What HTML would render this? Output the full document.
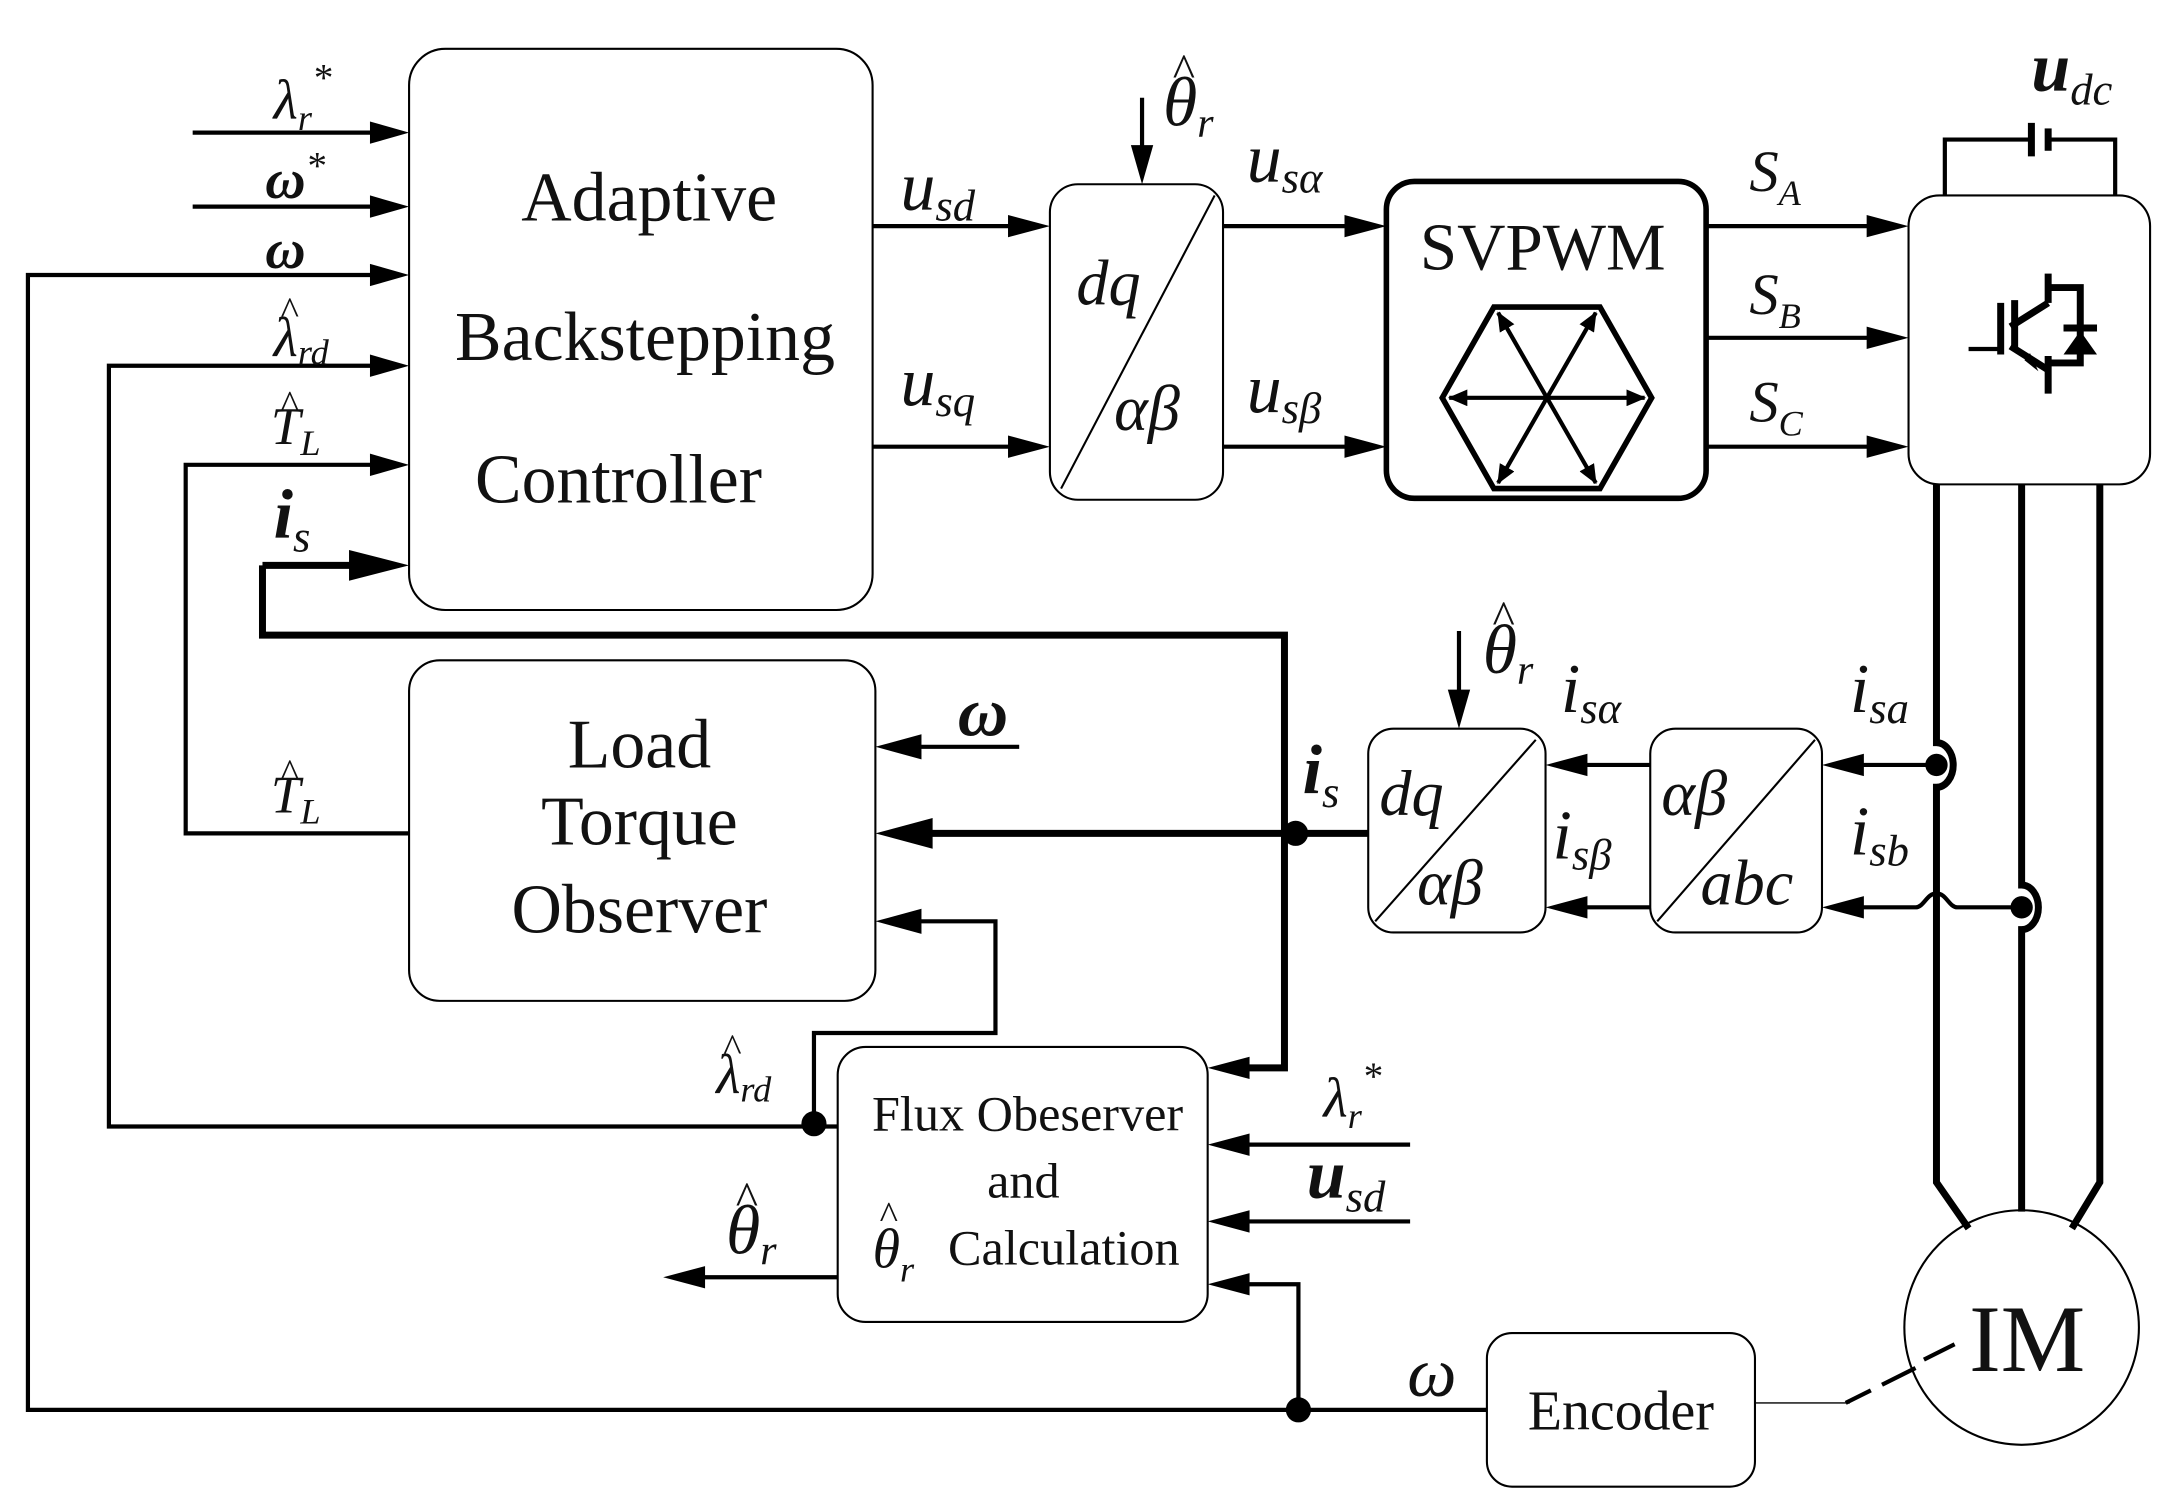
<!DOCTYPE html>
<html><head><meta charset="utf-8"><style>
html,body{margin:0;padding:0;background:#fff;}
svg{display:block}
text{font-family:"Liberation Serif",serif;fill:#111}
.it{font-style:italic}
</style></head><body>
<svg width="2178" height="1502" viewBox="0 0 1560 1076" preserveAspectRatio="none" xmlns="http://www.w3.org/2000/svg">
<defs>
<marker id="h" markerWidth="14" markerHeight="12" refX="13" refY="6" orient="auto" markerUnits="userSpaceOnUse" viewBox="0 0 14 12"><polygon points="0,0 14,6 0,12" fill="#000"/></marker>
</defs>
<g fill="none" stroke="#000">
<rect x="293" y="35" width="332" height="402" rx="26" stroke-width="1.5"/>
<rect x="752" y="132" width="124" height="226" rx="20" stroke-width="1.5"/>
<rect x="993" y="130" width="229" height="227" rx="20" stroke-width="4"/>
<rect x="1367" y="140" width="173" height="207" rx="22" stroke-width="1.5"/>
<rect x="293" y="473" width="334" height="244" rx="22" stroke-width="1.5"/>
<rect x="980" y="522" width="127" height="146" rx="18" stroke-width="1.5"/>
<rect x="1182" y="522" width="123" height="146" rx="18" stroke-width="1.5"/>
<rect x="600" y="750" width="265" height="197" rx="20" stroke-width="1.5"/>
<rect x="1065" y="955" width="192" height="110" rx="18" stroke-width="1.5"/>
<circle cx="1448" cy="951" r="84" stroke-width="1.5"/>
<line x1="760" y1="350" x2="870" y2="140" stroke-width="1.5"/>
<line x1="985" y1="660" x2="1100" y2="530" stroke-width="1.5"/>
<line x1="1187" y1="660" x2="1300" y2="530" stroke-width="1.5"/>
<polygon points="1033,285 1070,220 1146,220 1183,285 1146,350 1070,350" stroke-width="4"/>
<g stroke-width="3" marker-end="url(#h)">
<line x1="1108" y1="285" x2="1038" y2="285"/><line x1="1108" y1="285" x2="1178" y2="285"/>
<line x1="1108" y1="285" x2="1073" y2="224"/><line x1="1108" y1="285" x2="1143" y2="224"/>
<line x1="1108" y1="285" x2="1073" y2="346"/><line x1="1108" y1="285" x2="1143" y2="346"/>
</g>
<g stroke-width="3">
<line x1="138" y1="95" x2="275" y2="95"/>
<line x1="138" y1="148" x2="275" y2="148"/>
<polyline points="1065,1010 20,1010 20,197 275,197"/>
<polyline points="600,807 78,807 78,262 275,262"/>
<polyline points="293,597 133,597 133,333 275,333"/>
<line x1="625" y1="162" x2="735" y2="162"/>
<line x1="625" y1="320" x2="735" y2="320"/>
<line x1="818" y1="70" x2="818" y2="115"/>
<line x1="876" y1="162" x2="975" y2="162"/>
<line x1="876" y1="320" x2="975" y2="320"/>
<line x1="1222" y1="162" x2="1348" y2="162"/>
<line x1="1222" y1="242" x2="1348" y2="242"/>
<line x1="1222" y1="320" x2="1348" y2="320"/>
<polyline points="1393,140 1393,100 1455,100"/>
<polyline points="1467,100 1515,100 1515,140"/>
<line x1="730" y1="535" x2="648" y2="535"/>
<polyline points="583,805 583,740 713,740 713,660 648,660"/>
<line x1="1010" y1="820" x2="885" y2="820"/>
<line x1="1010" y1="875" x2="885" y2="875"/>
<polyline points="930,1010 930,920 885,920"/>
<line x1="600" y1="915" x2="495" y2="915"/>
<line x1="1045" y1="452" x2="1045" y2="505"/>
<line x1="1182" y1="548" x2="1127" y2="548"/>
<line x1="1182" y1="650" x2="1127" y2="650"/>
<line x1="1387" y1="548" x2="1325" y2="548"/>
<path d="M1448,650 L1402,650 C1396,650 1394,640 1387,640 C1380,640 1378,650 1372,650 L1325,650"/>
<line x1="1257" y1="1005" x2="1325" y2="1005" stroke-width="1"/>
<line x1="1322" y1="1005" x2="1340" y2="996"/><line x1="1348" y1="992" x2="1372" y2="980"/><line x1="1378" y1="974" x2="1400" y2="963"/>
</g>
<g stroke-width="5">
<polyline points="188,405 270,405"/>
<polyline points="188,405 188,455 920,455 920,765 885,765"/>
<line x1="980" y1="597" x2="650" y2="597"/>
<line x1="1455" y1="88" x2="1455" y2="112"/>
<line x1="1467" y1="92" x2="1467" y2="108"/>
<path d="M1387,347 V532 A12,16 0 0 1 1387,564 V847 L1410,880"/>
<path d="M1448,347 V634 A12,16 0 0 1 1448,666 V868"/>
<path d="M1504,347 V847 L1484,880"/>
<line x1="1443" y1="215" x2="1443" y2="250"/><line x1="1433" y1="217" x2="1433" y2="254"/>
<line x1="1440" y1="234" x2="1467" y2="217"/><line x1="1467" y1="217" x2="1467" y2="196"/>
<polyline points="1467,206 1490,206 1490,260 1467,260"/>
<line x1="1440" y1="248" x2="1467" y2="265"/><line x1="1467" y1="255" x2="1467" y2="282"/>
<line x1="1478" y1="235" x2="1502" y2="235"/>
</g>
<line x1="1410" y1="250" x2="1433" y2="250" stroke-width="3"/>
</g>
<g fill="#000">
<polygon points="1478,254 1502,254 1490,237"/>
<polygon points="1460,266 1450,258 1454,253"/>
<polygon points="293,95 265,87 265,103"/>
<polygon points="293,148 265,140 265,156"/>
<polygon points="293,197 265,189 265,205"/>
<polygon points="293,262 265,254 265,270"/>
<polygon points="293,333 265,325 265,341"/>
<polygon points="293,405 250,394 250,416"/>
<polygon points="752,162 722,154 722,170"/>
<polygon points="752,320 722,312 722,328"/>
<polygon points="818,132 810,104 826,104"/>
<polygon points="993,162 963,154 963,170"/>
<polygon points="993,320 963,312 963,328"/>
<polygon points="1367,162 1337,154 1337,170"/>
<polygon points="1367,242 1337,234 1337,250"/>
<polygon points="1367,320 1337,312 1337,328"/>
<polygon points="627,535 660,526 660,544"/>
<polygon points="627,597 668,586 668,608"/>
<polygon points="627,660 660,651 660,669"/>
<polygon points="865,765 895,757 895,773"/>
<polygon points="865,820 895,812 895,828"/>
<polygon points="865,875 895,867 895,883"/>
<polygon points="865,920 895,912 895,928"/>
<polygon points="475,915 505,907 505,923"/>
<polygon points="1045,522 1037,494 1053,494"/>
<polygon points="1107,548 1137,540 1137,556"/>
<polygon points="1107,650 1137,642 1137,658"/>
<polygon points="1305,548 1335,540 1335,556"/>
<polygon points="1305,650 1335,642 1335,658"/>
<circle cx="928" cy="597" r="9"/><circle cx="583" cy="805" r="9"/><circle cx="930" cy="1010" r="9"/>
<circle cx="1387" cy="548" r="8"/><circle cx="1448" cy="650" r="8"/>
</g>
<g font-size="50" text-anchor="middle">
<text x="465" y="158">Adaptive</text>
<text x="462" y="258">Backstepping</text>
<text x="443" y="360">Controller</text>
<text x="458" y="550">Load</text>
<text x="458" y="605">Torque</text>
<text x="458" y="668">Observer</text>
<text x="1105" y="193" font-size="48">SVPWM</text>
<text x="1161" y="1024" font-size="40">Encoder</text>
<text x="1452" y="982" font-size="68">IM</text>
<text x="736" y="810" font-size="36">Flux Obeserver</text>
<text x="733" y="858" font-size="36">and</text>
<text x="762" y="906" font-size="36">Calculation</text>
</g>
<g class="it" font-size="50">
<text x="771" y="218" font-size="46">dq</text><text x="798" y="308" font-size="46">αβ</text>
<text x="988" y="584" font-size="46">dq</text><text x="1015" y="648" font-size="46">αβ</text>
<text x="1190" y="584" font-size="46">αβ</text><text x="1218" y="648" font-size="46">abc</text>
<text x="645" y="150">u<tspan font-size="32" dy="8">sd</tspan></text>
<text x="645" y="290">u<tspan font-size="32" dy="8">sq</tspan></text>
<text x="893" y="130">u<tspan font-size="32" dy="8">sα</tspan></text>
<text x="893" y="295">u<tspan font-size="32" dy="8">sβ</tspan></text>
<text x="1253" y="137" font-size="42">S<tspan font-size="26" dy="10">A</tspan></text>
<text x="1253" y="225" font-size="42">S<tspan font-size="26" dy="10">B</tspan></text>
<text x="1253" y="302" font-size="42">S<tspan font-size="26" dy="10">C</tspan></text>
<text x="1455" y="65" font-weight="bold">u<tspan font-size="32" dy="10" font-weight="normal">dc</tspan></text>
<text x="833" y="90">θ<tspan font-size="30" dy="8">r</tspan></text><text x="840" y="62" font-size="34" font-style="normal">^</text>
<text x="1062" y="482">θ<tspan font-size="30" dy="8">r</tspan></text><text x="1069" y="454" font-size="34" font-style="normal">^</text>
<text x="520" y="898">θ<tspan font-size="30" dy="8">r</tspan></text><text x="527" y="870" font-size="34" font-style="normal">^</text>
<text x="1118" y="510">i<tspan font-size="32" dy="8">sα</tspan></text>
<text x="1112" y="615">i<tspan font-size="32" dy="8">sβ</tspan></text>
<text x="1325" y="510">i<tspan font-size="32" dy="8">sa</tspan></text>
<text x="1325" y="612">i<tspan font-size="32" dy="8">sb</tspan></text>
<text x="933" y="568" font-weight="bold">i<tspan font-size="32" dy="10" font-weight="normal">s</tspan></text>
<text x="196" y="385" font-weight="bold">i<tspan font-size="32" dy="10" font-weight="normal">s</tspan></text>
<text x="686" y="527" font-weight="bold">ω</text>
<text x="1008" y="1000">ω</text>
<text x="936" y="858" font-weight="bold">u<tspan font-size="32" dy="10" font-weight="normal">sd</tspan></text>
<text x="948" y="800" font-size="40">λ<tspan font-size="26" dy="8">r</tspan><tspan font-size="28" dy="-28">*</tspan></text>
<text x="196" y="85" font-size="40">λ<tspan font-size="26" dy="8">r</tspan><tspan font-size="28" dy="-28">*</tspan></text>
<text x="190" y="142" font-size="40" font-weight="bold">ω<tspan font-size="28" dy="-14" font-weight="normal">*</tspan></text>
<text x="190" y="192" font-size="40" font-weight="bold">ω</text>
<text x="196" y="255" font-size="40">λ<tspan font-size="26" dy="6">rd</tspan></text><text x="201" y="232" font-size="28" font-style="normal">^</text>
<text x="194" y="318" font-size="38">T<tspan font-size="26" dy="8">L</tspan></text><text x="201" y="299" font-size="28" font-style="normal">^</text>
<text x="194" y="582" font-size="38">T<tspan font-size="26" dy="8">L</tspan></text><text x="201" y="563" font-size="28" font-style="normal">^</text>
<text x="513" y="783" font-size="40">λ<tspan font-size="26" dy="6">rd</tspan></text><text x="518" y="760" font-size="28" font-style="normal">^</text>
<text x="625" y="908" font-size="40">θ<tspan font-size="26" dy="10">r</tspan></text><text x="630" y="880" font-size="28" font-style="normal">^</text>
</g>
</svg>
</body></html>
